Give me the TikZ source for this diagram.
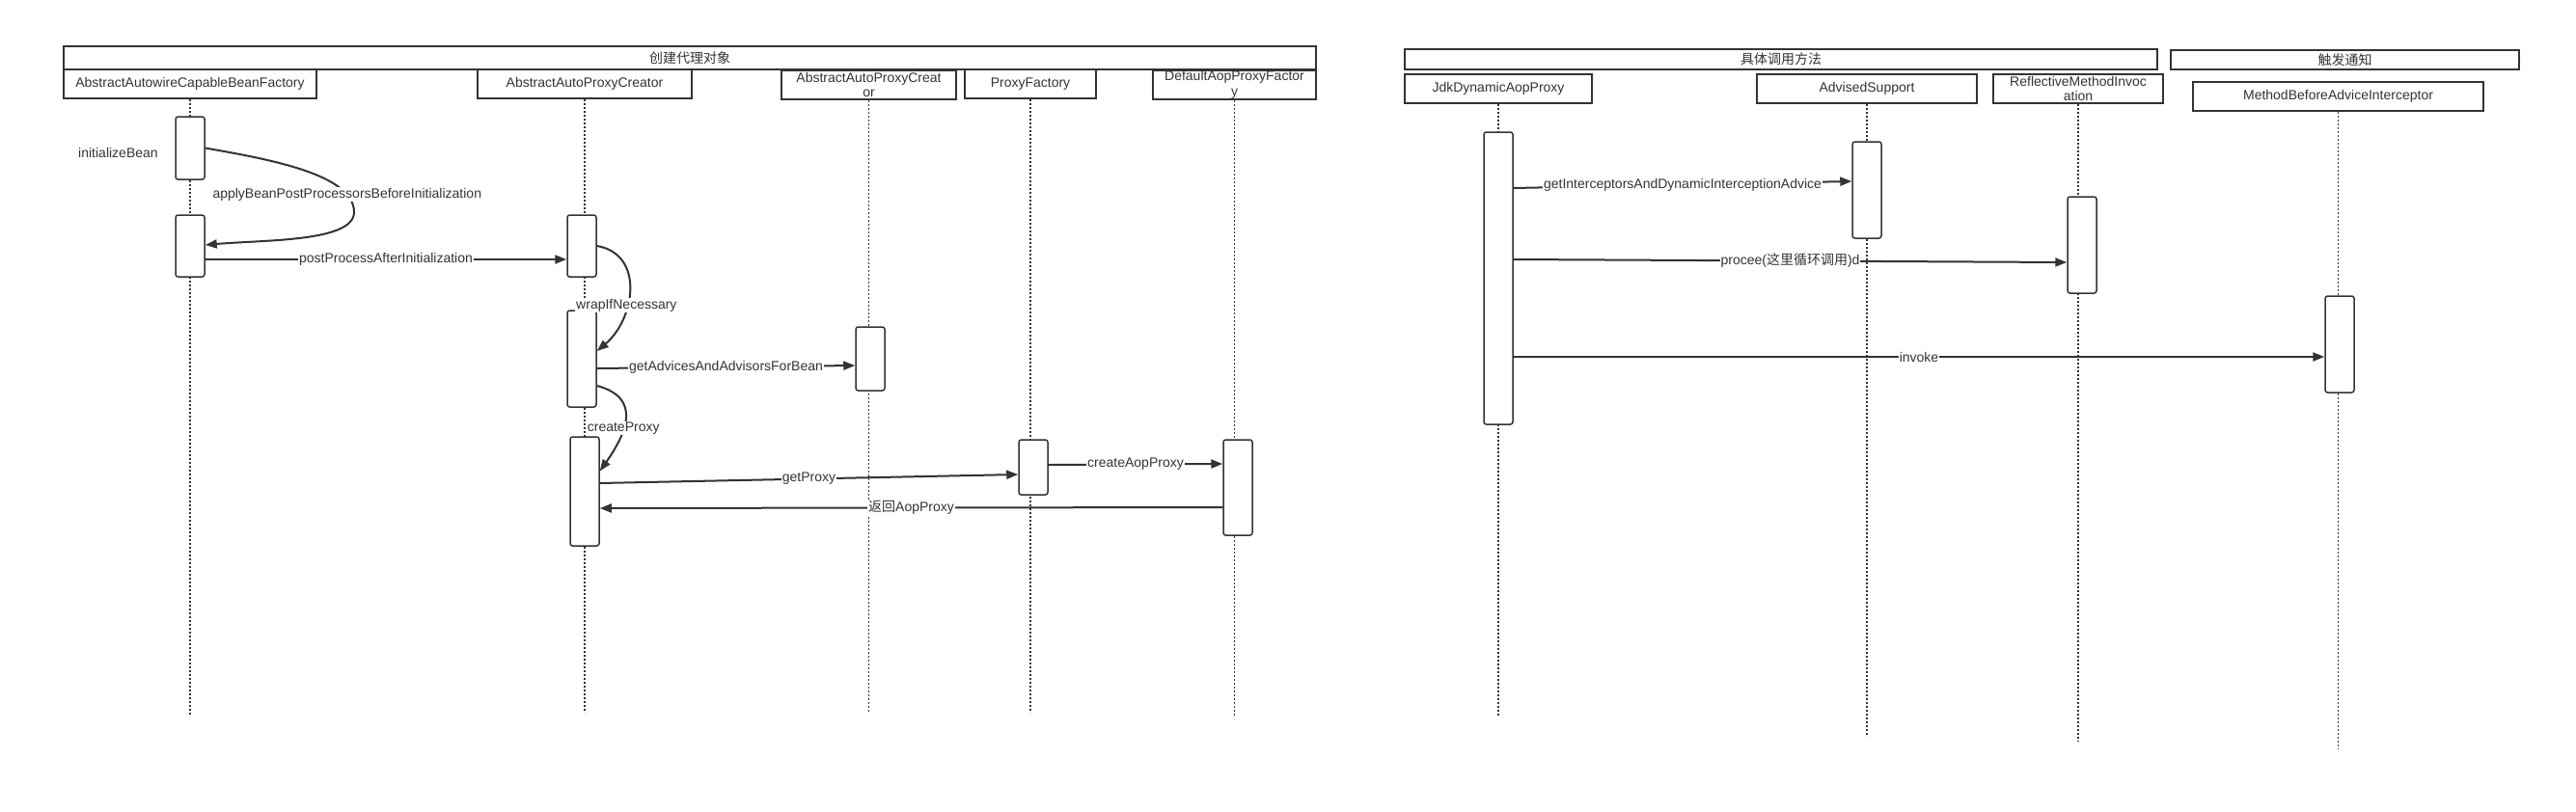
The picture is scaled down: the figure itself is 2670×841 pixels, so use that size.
\documentclass[tikz,border=0pt]{standalone}
\usepackage{fontspec}
\setmainfont{Liberation Sans}
\newfontfamily\cjk{Noto Sans CJK SC}
\usepackage{tikz}
\usetikzlibrary{arrows.meta, positioning}
\definecolor{umlgray}{HTML}{333333}

\tikzset{
  groupbox/.style={draw=umlgray, line width=2pt, inner sep=0pt},
  lifehead/.style={draw=umlgray, line width=2pt, align=center, inner sep=0pt, minimum height=30pt},
  activation/.style={draw=umlgray, fill=white, line width=1.5pt, rounded corners=2.5pt, minimum width=30pt, inner sep=0pt},
  lifeline/.style={draw=umlgray, line width=1.2pt, dash pattern=on 2pt off 2pt},
  msg/.style={draw=umlgray, line width=2pt, -{Triangle[length=12pt,width=9pt]}},
  msglabel/.style={fill=white, inner sep=1pt},
}

\begin{document}
\begin{tikzpicture}[x=1pt, y=1pt, every node/.style={font=\fontsize{14pt}{15.5pt}\selectfont, text=umlgray}]
\useasboundingbox (0,0) rectangle (2670,-841);

% Groups
\node[groupbox, minimum width=1298pt, minimum height=24pt] (createGrp) at (715,-60) {\cjk 创建代理对象};
\node[groupbox, minimum width=780pt, minimum height=21pt] (callGrp) at (1846,-61.5) {\cjk 具体调用方法};
\node[groupbox, minimum width=361pt, minimum height=20pt] (adviceGrp) at (2430.5,-62) {\cjk 触发通知};

% Lifeline heads
\node[lifehead, minimum width=262pt] (bfHead) at (197,-87) {AbstractAutowireCapableBeanFactory};
\node[lifehead, minimum width=222pt] (apcHead) at (606,-87) {AbstractAutoProxyCreator};
\node[lifehead, minimum width=181pt] (apcrHead) at (900.5,-88) {AbstractAutoProxyCreat\\or};
\node[lifehead, minimum width=136pt] (pfHead) at (1068,-87) {ProxyFactory};
\node[lifehead, minimum width=169pt] (dapfHead) at (1279.5,-88) {DefaultAopProxyFactor\\y};
\node[lifehead, minimum width=194pt] (jdkHead) at (1553,-92) {JdkDynamicAopProxy};
\node[lifehead, minimum width=228pt] (advHead) at (1935,-92) {AdvisedSupport};
\node[lifehead, minimum width=176pt] (rmiHead) at (2154,-92) {ReflectiveMethodInvoc\\ation};
\node[lifehead, minimum width=301pt] (mbaiHead) at (2423.5,-100) {MethodBeforeAdviceInterceptor};

% Lifelines
\draw[lifeline] (bfHead.south) -- (bfHead.south |- 0,-743);
\draw[lifeline] (apcHead.south) -- (apcHead.south |- 0,-739);
\draw[lifeline] (apcrHead.south) -- (apcrHead.south |- 0,-739);
\draw[lifeline] (pfHead.south) -- (pfHead.south |- 0,-739);
\draw[lifeline] (dapfHead.south) -- (dapfHead.south |- 0,-743);
\draw[lifeline] (jdkHead.south) -- (jdkHead.south |- 0,-743);
\draw[lifeline] (advHead.south) -- (advHead.south |- 0,-764);
\draw[lifeline] (rmiHead.south) -- (rmiHead.south |- 0,-769);
\draw[lifeline] (mbaiHead.south) -- (mbaiHead.south |- 0,-777);

% Activations
\node[activation, minimum height=65pt] (bf1) at (197,-153.5) {};
\node[activation, minimum height=64pt] (bf2) at (197,-255) {};
\node[activation, minimum height=64pt] (apc1) at (603,-255) {};
\node[activation, minimum height=100pt] (apc2) at (603,-372) {};
\node[activation, minimum height=113pt] (apc3) at (606,-509.5) {};
\node[activation, minimum height=66pt] (apcr) at (902,-372) {};
\node[activation, minimum height=57pt] (pf) at (1071,-484.5) {};
\node[activation, minimum height=99pt] (dapf) at (1283,-505.5) {};
\node[activation, minimum height=303pt] (jdk) at (1553,-288.5) {};
\node[activation, minimum height=100pt] (adv) at (1935,-197) {};
\node[activation, minimum height=100pt] (rmi) at (2158,-254) {};
\node[activation, minimum height=100pt] (mbai) at (2425,-357) {};

\node[left=14pt of bf1, yshift=-5pt] (initLbl) {initializeBean};
\coordinate (bfTurn) at (367,-220);

% Messages
\draw[msg] (bf1.east) to[out=-10, in=90, in looseness=0.6] node[msglabel, pos=0.83] {applyBeanPostProcessorsBeforeInitialization} (bfTurn)
  to[out=-90, in=5, out looseness=0.5] ([yshift=1pt]bf2.east);
\draw[msg] ([yshift=-14pt]bf2.east) -- node[msglabel] {postProcessAfterInitialization} ([yshift=-14pt]apc1.west);
\draw[msg] (apc1.east) to[out=-10, in=40, looseness=1.2] node[msglabel, pos=0.62] {wrapIfNecessary} ([yshift=8pt]apc2.east);
\draw[msg] ([yshift=-10pt]apc2.east) -- node[msglabel] {getAdvicesAndAdvisorsForBean} ([yshift=-7pt]apcr.west);
\draw[msg] ([yshift=-28pt]apc2.east) to[out=-15, in=55, looseness=1.4] node[msglabel, pos=0.6] {createProxy} ([yshift=21pt]apc3.east);
\draw[msg] ([yshift=8.5pt]apc3.east) -- node[msglabel] {getProxy} ([yshift=-7.5pt]pf.west);
\draw[msg] ([yshift=2.5pt]pf.east) -- node[msglabel] {createAopProxy} ([yshift=24.5pt]dapf.west);
\draw[msg] ([yshift=-20.5pt]dapf.west) -- node[msglabel] {{\cjk 返回}AopProxy} ([yshift=-17.5pt]apc3.east);

\draw[msg] ([yshift=93.5pt]jdk.east) -- node[msglabel] {getInterceptorsAndDynamicInterceptionAdvice} ([yshift=9pt]adv.west);
\draw[msg] ([yshift=19.5pt]jdk.east) -- node[msglabel] {procee({\cjk 这里循环调用})d} ([yshift=-18pt]rmi.west);
\draw[msg] ([yshift=-81.5pt]jdk.east) -- node[msglabel] {invoke} ([yshift=-13pt]mbai.west);
\end{tikzpicture}
\end{document}
